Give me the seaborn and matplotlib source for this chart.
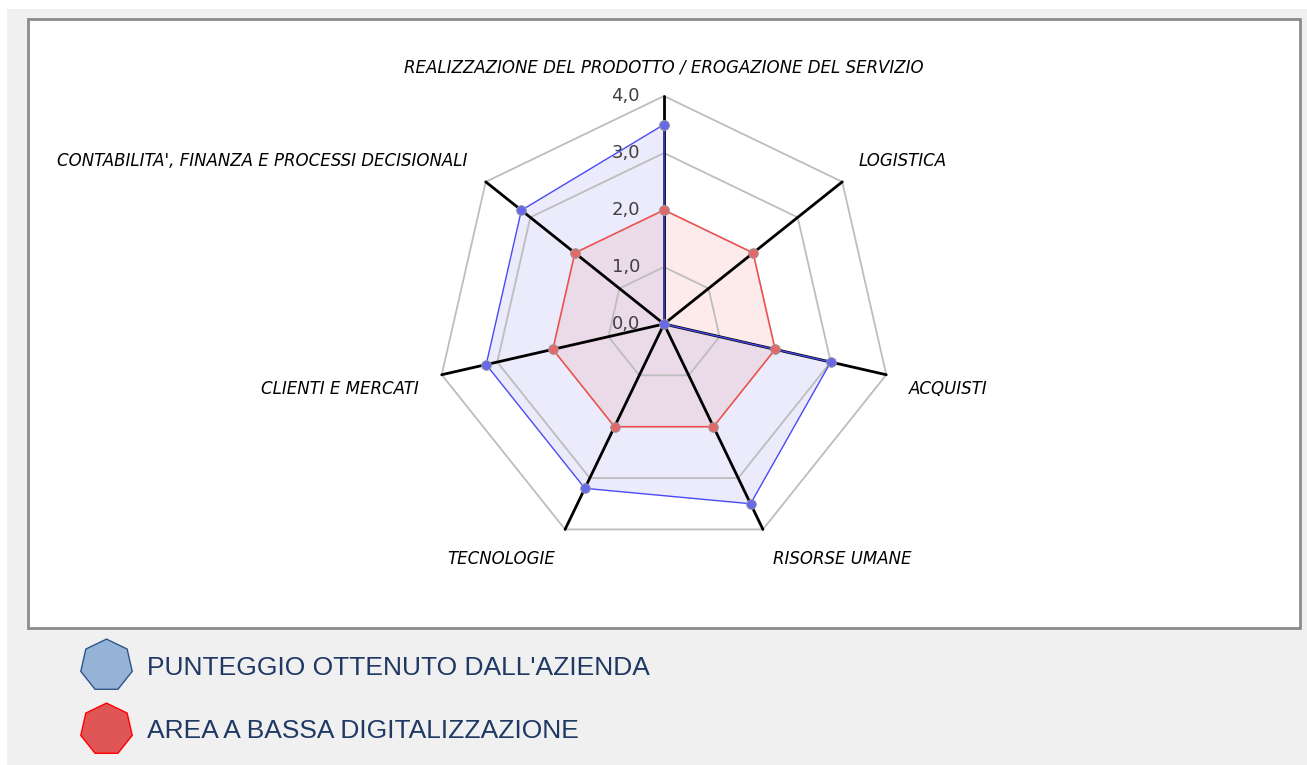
import numpy as np
import pandas as pd
import matplotlib
matplotlib.use("Agg")
import matplotlib.pyplot as plt
import seaborn as sns
from matplotlib.lines import Line2D
from matplotlib.patches import Rectangle

# =========================================
# DATA
# =========================================
categories = [
    "REALIZZAZIONE DEL PRODOTTO / EROGAZIONE DEL SERVIZIO",
    "LOGISTICA",
    "ACQUISTI",
    "RISORSE UMANE",
    "TECNOLOGIE",
    "CLIENTI E MERCATI",
    "CONTABILITA', FINANZA E PROCESSI DECISIONALI",
]
punteggio_azienda = [3.5, 0.0, 3.0, 3.5, 3.2, 3.2, 3.2]
bassa_digitalizzazione = [2.0, 2.0, 2.0, 2.0, 2.0, 2.0, 2.0]
grid_levels = [1.0, 2.0, 3.0, 4.0]
tick_values = [0.0, 1.0, 2.0, 3.0, 4.0]
tick_labels = ["0,0", "1,0", "2,0", "3,0", "4,0"]
legend_labels = ["PUNTEGGIO OTTENUTO DALL'AZIENDA", "AREA A BASSA DIGITALIZZAZIONE"]

# label offsets from the outer vertex (pixels) and alignment
label_style = [
    (0, 29, "center"),
    (16, 21, "left"),
    (23, -14, "left"),
    (10, -30, "left"),
    (-10, -30, "right"),
    (-23, -14, "right"),
    (-18, 21, "right"),
]

sns.set_theme(style="white")
plt.rcParams["font.family"] = ["DejaVu Sans"]

W, H = 1307, 765
fig = plt.figure(figsize=(W / 100, H / 100), dpi=100, facecolor="white")

# grey background + white chart box
fig.patches.append(Rectangle((7 / W, 0), 1, (H - 9) / H, transform=fig.transFigure,
                             facecolor="#f0f0f0", edgecolor="none", zorder=-10))
fig.patches.append(Rectangle((28 / W, (H - 628) / H), 1272 / W, 609 / H,
                             transform=fig.transFigure, facecolor="white",
                             edgecolor="#8c8c8c", linewidth=2, zorder=-9))

# polar axes: centre (664, 324), radius 228 px
cx, cy, R = 664, 324, 228
ax = fig.add_axes([(cx - R) / W, (H - cy - R) / H, 2 * R / W, 2 * R / H], projection="polar")
ax.set_theta_offset(np.pi / 2)
ax.set_theta_direction(-1)
ax.set_ylim(0, 4)
ax.set_axis_off()

n = len(categories)
theta = np.linspace(0, 2 * np.pi, n, endpoint=False)
theta_closed = np.append(theta, 2 * np.pi)

# heptagon rings
for lvl in grid_levels:
    ax.plot(theta_closed, [lvl] * (n + 1), color="#bdbdbd", lw=1.3, zorder=2, clip_on=False)

# spokes
for t in theta:
    ax.plot([t, t], [0, 4], color="black", lw=2, zorder=3, clip_on=False)

# series
series = [
    (punteggio_azienda, "#4a4af5", "#6060e0", "#6868ea"),
    (bassa_digitalizzazione, "#ff4545", "#f06060", "#e06a6a"),
]
for vals, line_c, fill_c, mark_c in series:
    closed = list(vals) + [vals[0]]
    ax.fill(theta_closed, closed, color=fill_c, alpha=0.12, zorder=1, lw=0)
    df = pd.DataFrame({"theta": theta_closed, "value": closed})
    sns.lineplot(data=df, x="theta", y="value", sort=False, ax=ax, color=line_c,
                 lw=1, zorder=4, marker="o", markersize=7, markerfacecolor=mark_c,
                 markeredgecolor="#9a9a9a", markeredgewidth=0.6, clip_on=False)
ax.set_xlabel("")
ax.set_ylabel("")

# tick labels on top spoke
for v, lab in zip(tick_values, tick_labels):
    ax.annotate(lab, xy=(0, v), xytext=(-24, 0), textcoords="offset pixels",
                ha="right", va="center", fontsize=13, color="#404040",
                annotation_clip=False)

# category labels
for t, lab, (dx, dy, ha) in zip(theta, categories, label_style):
    ax.annotate(lab, xy=(t, 4), xytext=(dx, dy), textcoords="offset pixels",
                ha=ha, va="center", fontsize=12, style="italic", color="black",
                annotation_clip=False)

# legend with heptagon markers
handles = [
    Line2D([], [], linestyle="", marker=(7, 0, 0), markersize=38,
           markerfacecolor="#95b3d7", markeredgecolor="#2f5587", markeredgewidth=1),
    Line2D([], [], linestyle="", marker=(7, 0, 0), markersize=38,
           markerfacecolor="#e05555", markeredgecolor="#ff0000", markeredgewidth=1),
]
leg = fig.legend(handles, legend_labels, loc="upper left",
                 bbox_to_anchor=(74 / W, 1 - 645 / H), frameon=False,
                 prop={"family": ["Liberation Sans"], "size": 19},
                 labelcolor="#1f3864", handlelength=1.6, handletextpad=0.75,
                 labelspacing=1.49, borderaxespad=0)

fig.savefig("out.png", dpi=100, facecolor="white")
